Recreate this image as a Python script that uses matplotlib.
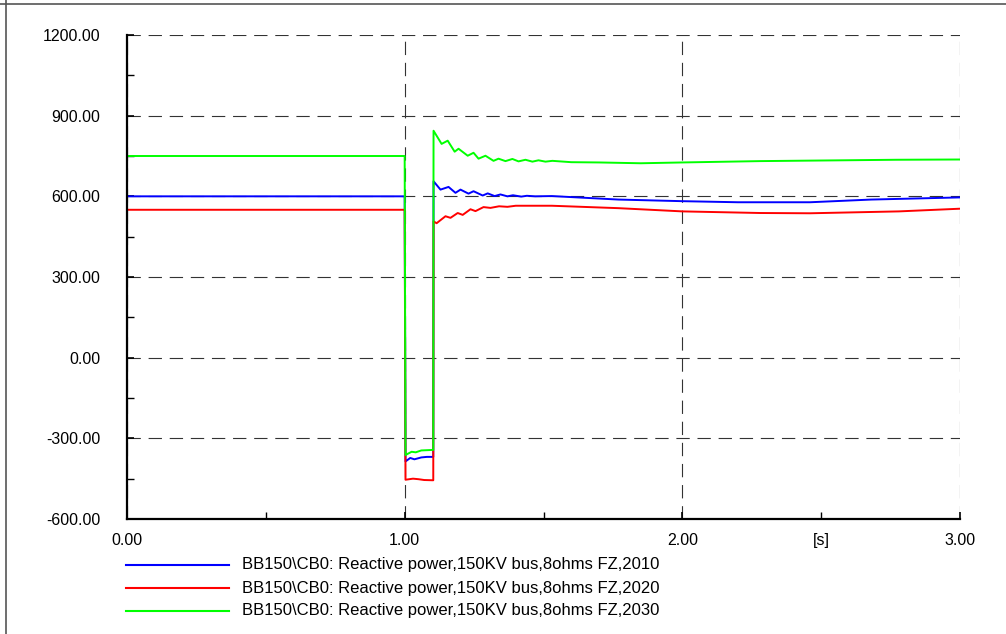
import matplotlib
matplotlib.use("Agg")
import matplotlib.pyplot as plt
from matplotlib.lines import Line2D

plt.rcParams["font.family"] = ["Liberation Sans", "DejaVu Sans"]

# reactive power traces (time in s, Q in Mvar)
t_2010 = [0.0, 1.0, 1.003, 1.02, 1.035, 1.06, 1.08, 1.103, 1.104, 1.129, 1.158, 1.183,
          1.201, 1.230, 1.248, 1.281, 1.299, 1.324, 1.345, 1.37, 1.39, 1.42, 1.44, 1.47,
          1.53, 1.77, 2.0, 2.2, 2.46, 2.68, 3.0]
q_2010 = [600, 600, -386, -373, -378, -371, -369, -369, 656, 625, 635, 613,
          625, 610, 619, 603, 611, 601, 607, 600, 604, 599, 602, 600,
          601, 588, 582, 578, 578, 588, 596]

t_2020 = [0.0, 1.0, 1.003, 1.03, 1.05, 1.07, 1.103, 1.104, 1.115, 1.147, 1.165, 1.191,
          1.209, 1.237, 1.255, 1.284, 1.309, 1.34, 1.37, 1.40, 1.45, 1.53, 1.77, 2.0,
          2.28, 2.46, 2.78, 3.0]
q_2020 = [550, 550, -454, -450, -452, -455, -456, 507, 500, 526, 520, 538,
          531, 552, 545, 560, 557, 563, 561, 565, 565, 565, 556, 544,
          538, 537, 544, 554]

t_2030 = [0.0, 1.0, 1.003, 1.025, 1.04, 1.06, 1.103, 1.104, 1.133, 1.155, 1.180, 1.194,
          1.227, 1.248, 1.266, 1.291, 1.320, 1.338, 1.363, 1.388, 1.410, 1.435, 1.460,
          1.482, 1.507, 1.532, 1.60, 1.70, 1.85, 2.0, 2.28, 2.77, 3.0]
q_2030 = [750, 750, -362, -350, -352, -345, -343, 844, 795, 807, 766, 777,
          751, 762, 740, 751, 732, 740, 731, 739, 730, 736, 729,
          734, 729, 732, 727, 726, 723, 726, 731, 736, 737]

labels = [
    r"BB150\CB0: Reactive power,150KV bus,8ohms FZ,2010",
    r"BB150\CB0: Reactive power,150KV bus,8ohms FZ,2020",
    r"BB150\CB0: Reactive power,150KV bus,8ohms FZ,2030",
]
colors = ["#0000ff", "#ff0000", "#00ff00"]

x_ticks = [0, 1, 2, 3]
x_ticklabels = ["0.00", "1.00", "2.00", "3.00"]
y_ticks = [-600, -300, 0, 300, 600, 900, 1200]

W, H = 1006, 634
fig = plt.figure(figsize=(W / 100, H / 100), dpi=100)
ax = fig.add_axes([127 / W, 1 - 519 / H, 833 / W, 484 / H])

series = [(t_2010, q_2010), (t_2020, q_2020), (t_2030, q_2030)]
for (t, q), c in zip(series, colors):
    ax.plot(t, q, color=c, lw=1.4, zorder=3)

ax.set_xlim(0, 3)
ax.set_ylim(-600, 1200)
ax.set_xticks(x_ticks)
ax.set_xticklabels(x_ticklabels)
ax.set_xticks([0.5, 1.5, 2.5], minor=True)
ax.set_xticklabels(["", "", "[s]"], minor=True)
ax.set_yticks(y_ticks)
ax.set_yticklabels([f"{v:.2f}" for v in y_ticks])
ax.set_yticks([v + 150 for v in y_ticks[:-1]], minor=True)

ax.tick_params(which="both", direction="in", labelsize=11.5, colors="black")
ax.tick_params(axis="y", which="major", length=5, width=1.2, pad=19)
ax.tick_params(axis="y", which="minor", length=5, width=1.0, pad=19)
ax.tick_params(axis="x", which="major", length=5, width=1.2, pad=10)
ax.tick_params(axis="x", which="minor", length=5, width=1.0, pad=10)

ax.grid(True, which="major", color="#333333", lw=0.8, dashes=(12, 7))
for s in ["top", "right"]:
    ax.spines[s].set_visible(False)
for s in ["left", "bottom"]:
    ax.spines[s].set_linewidth(1.6)
    ax.spines[s].set_zorder(4)

# legend drawn below the axes like the original tool does
for i, (lab, c) in enumerate(zip(labels, colors)):
    yy = 1 - (565 + 23 * i) / H
    fig.add_artist(Line2D([126 / W, 229 / W], [yy, yy], transform=fig.transFigure,
                          color=c, lw=1.5))
    fig.text(242 / W, yy, lab, fontsize=12, va="center", ha="left")

# page frame lines
fig.add_artist(Line2D([0, 1], [1 - 4 / H, 1 - 4 / H], transform=fig.transFigure,
                      color="#555555", lw=1.2))
fig.add_artist(Line2D([6 / W, 6 / W], [0, 1], transform=fig.transFigure,
                      color="#555555", lw=1.2))

fig.savefig("out.png", dpi=100)
